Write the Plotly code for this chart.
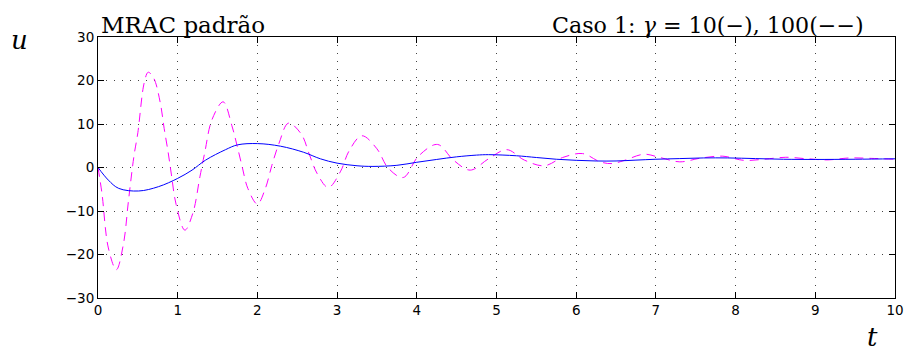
import plotly.graph_objects as go

# Control signal u(t) for the standard MRAC, two adaptation gains
t_g10 = [0, 0.13, 0.26, 0.51, 0.76, 1.0, 1.18, 1.35, 1.6, 1.75, 2.0, 2.29, 2.58,
         2.79, 3.0, 3.25, 3.45, 3.75, 4.0, 4.25, 4.5, 4.75, 4.9, 5.25, 5.5, 5.75,
         6.0, 6.25, 6.5, 6.75, 7.0, 7.3, 7.6, 7.9, 8.25, 8.6, 9.0, 9.5, 10.0]
u_g10 = [0, -2.9, -4.8, -5.4, -4.4, -2.5, -0.6, 1.7, 4.1, 5.2, 5.5, 4.9, 3.5,
         2.0, 1.0, 0.4, 0.25, 0.5, 1.2, 1.85, 2.45, 2.85, 2.95, 2.7, 2.3, 1.9,
         1.65, 1.5, 1.5, 1.7, 1.9, 2.05, 2.2, 2.2, 2.05, 1.9, 1.85, 1.9, 2.0]

t_g100 = [0, 0.05, 0.13, 0.23, 0.32, 0.38, 0.45, 0.5, 0.58, 0.63, 0.7, 0.78, 0.83,
          0.88, 0.92, 0.98, 1.09, 1.19, 1.28, 1.34, 1.43, 1.57, 1.68, 1.74, 1.81,
          1.88, 2.0, 2.1, 2.18, 2.27, 2.39, 2.55, 2.65, 2.75, 2.89, 3.04, 3.15,
          3.31, 3.5, 3.64, 3.83, 4.02, 4.26, 4.46, 4.67, 4.9, 5.13, 5.35, 5.6,
          5.83, 6.08, 6.3, 6.45, 6.6, 6.85, 7.05, 7.3, 7.56, 7.84, 8.1, 8.36,
          8.63, 8.9, 9.16, 9.43, 9.7, 10.0]
u_g100 = [0, -6, -18.5, -23.5, -17.5, -8, 2.5, 8, 19.5, 21.9, 20.5, 15, 9,
          3.5, -1.5, -8.5, -14.4, -10.5, -2, 3.5, 11, 15.1, 9.6, 5.4, 0.1,
          -4.8, -8.4, -4.8, 0.4, 5.5, 10.2, 7.7, 3.1, -1.4, -4.6, -1.0, 3.8,
          7.3, 4.3, -0.1, -2.3, 2.6, 5.3, 1.7, -0.6, 2.0, 4.1, 1.7, 0.4,
          2.3, 3.2, 1.3, 0.9, 1.6, 3.05, 2.3, 1.3, 2.15, 2.6, 1.65, 1.9,
          2.35, 2.0, 1.75, 2.2, 2.1, 1.9]

x_ticks = list(range(0, 11))
y_ticks = [-30, -20, -10, 0, 10, 20, 30]
y_tick_text = ["\u221230", "\u221220", "\u221210", "0", "10", "20", "30"]

fig = go.Figure()
fig.add_trace(go.Scatter(x=t_g100, y=u_g100, mode="lines",
                         line=dict(color="#ff00ff", width=1, dash="9px,6px",
                                   shape="spline", smoothing=1.0)))
fig.add_trace(go.Scatter(x=t_g10, y=u_g10, mode="lines",
                         line=dict(color="#0000ff", width=1,
                                   shape="spline", smoothing=1.0)))

axis_common = dict(
    showline=True, linecolor="black", linewidth=1, mirror="ticks",
    ticks="inside", ticklen=6, tickcolor="black", tickwidth=1,
    showgrid=True, gridcolor="#444444", gridwidth=1, griddash="1px,7px",
    zeroline=False, automargin=False,
    tickfont=dict(family="DejaVu Sans", size=13.5, color="black"),
)

fig.update_xaxes(range=[0, 10], tickvals=x_ticks, **axis_common)
fig.update_yaxes(range=[-30, 30], tickvals=y_ticks, ticktext=y_tick_text,
                 **axis_common)

serif = "DejaVu Serif"
L, R, T, B = 97.5, 895.0, 36.5, 298.5
W, H = R - L, B - T

fig.update_layout(
    width=908, height=354,
    margin=dict(l=L, r=908 - R, t=T, b=354 - B),
    paper_bgcolor="white", plot_bgcolor="white",
    showlegend=False,
    annotations=[
        dict(text="MRAC padrão", xref="paper", yref="paper", x=(99 - L) / W, y=1,
             xanchor="left", yanchor="bottom", yshift=-3, showarrow=False,
             font=dict(family=serif, size=23, color="black")),
        dict(text="Caso 1: <i>γ</i> = 10(−), 100(−−)", xref="paper", yref="paper",
             x=(866 - L) / W, y=1, xanchor="right", yanchor="bottom",
             yshift=-3, showarrow=False,
             font=dict(family=serif, size=22.2, color="black")),
        dict(text="<i>u</i>", xref="paper", yref="paper",
             x=(19 - L) / W, y=(B - 40) / H,
             xanchor="center", yanchor="middle", showarrow=False,
             font=dict(family=serif, size=26, color="black")),
        dict(text="<i>t</i>", xref="paper", yref="paper",
             x=(872 - L) / W, y=(B - 338) / H,
             xanchor="center", yanchor="middle", showarrow=False,
             font=dict(family=serif, size=26, color="black")),
    ],
)

fig.write_html("out.html")
